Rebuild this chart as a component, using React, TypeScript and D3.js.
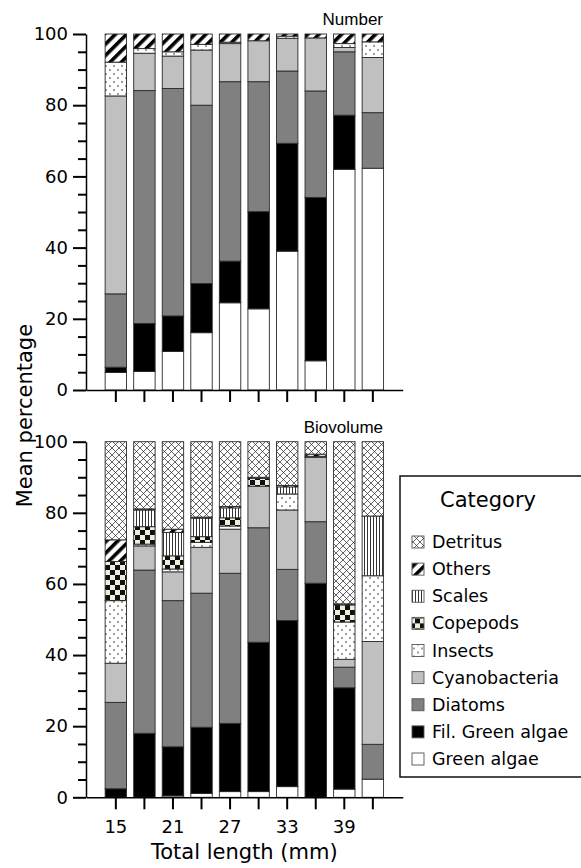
import { useEffect, useRef } from "react";
import * as d3 from "d3";

const LENGTHS = ["15", "18", "21", "24", "27", "30", "33", "36", "39", "42"];
const LABELLED = ["15", "21", "27", "33", "39"];

// stacked bottom -> top
const KEYS = [
  "Green algae",
  "Fil. Green algae",
  "Diatoms",
  "Cyanobacteria",
  "Insects",
  "Copepods",
  "Scales",
  "Others",
  "Detritus",
];

// Number (%), one array per category, values per length class
const NUM_GREEN = [4.9, 5.2, 10.8, 16.1, 24.5, 22.8, 39.0, 8.2, 62.0, 62.3];
const NUM_FILGREEN = [1.5, 13.5, 10.0, 13.8, 11.7, 27.3, 30.3, 45.9, 15.2, 0];
const NUM_DIATOMS = [20.6, 65.4, 63.9, 50.1, 50.4, 36.5, 20.3, 29.9, 17.8, 15.6];
const NUM_CYANO = [55.6, 10.5, 9.1, 15.5, 10.7, 11.5, 9.2, 14.9, 1.2, 15.5];
const NUM_INSECTS = [9.5, 1.3, 1.2, 1.6, 0.4, 0, 0.6, 0, 1.1, 4.4];
const NUM_COPEPODS = [0, 0, 0, 0, 0, 0, 0, 0, 0, 0];
const NUM_SCALES = [0, 0, 0, 0, 0, 0, 0, 0, 0, 0];
const NUM_OTHERS = [7.9, 4.1, 5.0, 2.9, 2.3, 1.9, 0.6, 1.1, 2.7, 2.2];
const NUM_DETRITUS = [0, 0, 0, 0, 0, 0, 0, 0, 0, 0];

// Biovolume (%)
const BIO_GREEN = [0, 0, 0.4, 1.1, 1.6, 1.6, 3.0, 0, 2.3, 5.1];
const BIO_FILGREEN = [2.4, 18.0, 13.8, 18.6, 19.2, 42.0, 46.7, 60.2, 28.5, 0];
const BIO_DIATOMS = [24.3, 45.9, 41.1, 37.7, 42.2, 32.2, 14.4, 17.3, 5.8, 9.8];
const BIO_CYANO = [11.0, 6.8, 8.1, 12.9, 12.4, 11.7, 16.7, 18.1, 2.2, 28.9];
const BIO_INSECTS = [17.6, 0.5, 0.8, 1.4, 0.9, 0, 4.5, 0.3, 10.5, 18.5];
const BIO_COPEPODS = [11.0, 4.9, 3.7, 1.6, 2.3, 2.2, 0, 0, 4.8, 0];
const BIO_SCALES = [0, 4.7, 6.6, 5.2, 2.8, 0, 2.0, 0, 0, 16.8];
const BIO_OTHERS = [6.1, 0.3, 0.9, 0.3, 0.4, 0.3, 0.4, 0.6, 0.3, 0];
const BIO_DETRITUS = [27.6, 18.9, 24.6, 21.2, 18.2, 10.0, 12.3, 3.5, 45.6, 20.9];

const FILLS: Record<string, string> = {
  "Green algae": "#ffffff",
  "Fil. Green algae": "#000000",
  Diatoms: "#808080",
  Cyanobacteria: "#c0c0c0",
  Insects: "url(#p-insects)",
  Copepods: "url(#p-copepods)",
  Scales: "url(#p-scales)",
  Others: "url(#p-others)",
  Detritus: "url(#p-detritus)",
};

const LEGEND_ORDER = [...KEYS].reverse();

function rows(cols: number[][]) {
  return LENGTHS.map((len, i) => {
    const r: Record<string, number | string> = { len };
    KEYS.forEach((k, j) => (r[k] = cols[j][i]));
    return r;
  });
}

const PANELS = [
  {
    title: "Number",
    top: 34,
    bottom: 390,
    labels: false,
    data: rows([NUM_GREEN, NUM_FILGREEN, NUM_DIATOMS, NUM_CYANO, NUM_INSECTS, NUM_COPEPODS, NUM_SCALES, NUM_OTHERS, NUM_DETRITUS]),
  },
  {
    title: "Biovolume",
    top: 441.7,
    bottom: 797.3,
    labels: true,
    data: rows([BIO_GREEN, BIO_FILGREEN, BIO_DIATOMS, BIO_CYANO, BIO_INSECTS, BIO_COPEPODS, BIO_SCALES, BIO_OTHERS, BIO_DETRITUS]),
  },
];

const W = 581;
const H = 868;
const FONT = "'DejaVu Sans', Verdana, sans-serif";

export default function App() {
  const ref = useRef<SVGSVGElement | null>(null);

  useEffect(() => {
    const svg = d3.select(ref.current);
    svg.selectAll("g").remove();

    const x = d3.scaleBand<string>().domain(LENGTHS).range([86, 402.7]).paddingInner(0.25).paddingOuter(0.67);
    const stack = d3.stack<Record<string, number | string>>().keys(KEYS);

    PANELS.forEach((p) => {
      const y = d3.scaleLinear().domain([0, 100]).range([p.bottom, p.top]);
      const g = svg.append("g");
      const series = stack(p.data as never);

      series.forEach((s) => {
        g.append("g")
          .selectAll("rect")
          .data(s.filter((d) => d[1] - d[0] > 0))
          .join("rect")
          .attr("x", (d) => x(d.data.len as string)!)
          .attr("width", x.bandwidth())
          .attr("y", (d) => y(d[1]))
          .attr("height", (d) => y(d[0]) - y(d[1]))
          .attr("fill", FILLS[s.key])
          .attr("stroke", "#2a2a2a")
          .attr("stroke-width", 0.9);
      });

      // y axis: major + minor ticks
      g.append("g")
        .attr("transform", "translate(86,0)")
        .call(d3.axisLeft(y).tickValues(d3.range(0, 101, 20)).tickSize(13).tickSizeOuter(0).tickPadding(5))
        .call((s) => s.select(".domain").attr("stroke", "#000").attr("stroke-width", 1.5))
        .call((s) => s.selectAll(".tick line").attr("stroke", "#000").attr("stroke-width", 2))
        .call((s) => s.selectAll("text").attr("fill", "#000").attr("font-family", FONT).attr("font-size", 18));
      g.append("g")
        .attr("transform", "translate(86,0)")
        .call(
          d3
            .axisLeft(y)
            .tickValues(d3.range(5, 100, 5).filter((v) => v % 20 !== 0))
            .tickSize(8)
            .tickFormat(() => "")
        )
        .call((s) => s.select(".domain").remove())
        .call((s) => s.selectAll(".tick line").attr("stroke", "#000").attr("stroke-width", 2));

      // x axis
      g.append("g")
        .attr("transform", `translate(0,${p.bottom})`)
        .call(
          d3
            .axisBottom(x)
            .tickSize(12)
            .tickSizeOuter(0)
            .tickPadding(11)
            .tickFormat((d) => (p.labels && LABELLED.includes(d) ? d : ""))
        )
        .call((s) => s.select(".domain").attr("stroke", "#000").attr("stroke-width", 1.5))
        .call((s) => s.selectAll(".tick line").attr("stroke", "#000").attr("stroke-width", 2))
        .call((s) => s.selectAll("text").attr("fill", "#000").attr("font-family", FONT).attr("font-size", 18));

      g.append("text")
        .attr("x", 383)
        .attr("y", p.top - 9)
        .attr("text-anchor", "end")
        .attr("font-family", "'Liberation Sans', Arial, sans-serif")
        .attr("font-size", 17)
        .text(p.title);
    });

    // axis titles
    svg
      .append("g")
      .append("text")
      .attr("x", 244.3)
      .attr("y", 859)
      .attr("text-anchor", "middle")
      .attr("font-family", FONT)
      .attr("font-size", 21)
      .text("Total length (mm)");
    svg
      .append("g")
      .attr("transform", "translate(32,415.6) rotate(-90)")
      .append("text")
      .attr("text-anchor", "middle")
      .attr("font-family", FONT)
      .attr("font-size", 21)
      .text("Mean percentage");

    // legend
    const lg = svg.append("g");
    lg.append("rect")
      .attr("x", 400)
      .attr("y", 476)
      .attr("width", 190)
      .attr("height", 301)
      .attr("fill", "#fff")
      .attr("stroke", "#111")
      .attr("stroke-width", 1.5);
    lg.append("text")
      .attr("x", 488)
      .attr("y", 507)
      .attr("text-anchor", "middle")
      .attr("font-family", FONT)
      .attr("font-size", 21)
      .text("Category");
    const ly = d3.scalePoint<string>().domain(LEGEND_ORDER).range([542, 759]);
    const item = lg
      .selectAll("g.item")
      .data(LEGEND_ORDER)
      .join("g")
      .attr("class", "item")
      .attr("transform", (d) => `translate(0,${ly(d)})`);
    item
      .append("rect")
      .attr("x", 412)
      .attr("y", -6)
      .attr("width", 12)
      .attr("height", 12)
      .attr("fill", (d) => FILLS[d])
      .attr("stroke", "#555")
      .attr("stroke-width", 0.9);
    item
      .append("text")
      .attr("x", 432)
      .attr("y", 6)
      .attr("font-family", FONT)
      .attr("font-size", 17.5)
      .text((d) => d);
  }, []);

  return (
    <svg
      ref={ref}
      width={W}
      height={H}
      style={{ position: "absolute", left: 0, top: 0, background: "#fff" }}
    >
      <defs>
        <pattern id="p-detritus" patternUnits="userSpaceOnUse" width={7} height={7}>
          <rect width={7} height={7} fill="#fff" />
          <path d="M0,0L7,7M7,0L0,7" stroke="#222" strokeWidth={0.7} />
        </pattern>
        <pattern id="p-others" patternUnits="userSpaceOnUse" width={8} height={8} patternTransform="rotate(45)">
          <rect width={8} height={8} fill="#fff" />
          <rect width={3.6} height={8} fill="#000" />
        </pattern>
        <pattern id="p-scales" patternUnits="userSpaceOnUse" width={3} height={3}>
          <rect width={3} height={3} fill="#fff" />
          <rect x={1} width={1} height={3} fill="#333" />
        </pattern>
        <pattern id="p-copepods" patternUnits="userSpaceOnUse" width={10} height={10}>
          <rect width={10} height={10} fill="#f0eedd" />
          <rect width={5} height={5} fill="#111" />
          <rect x={5} y={5} width={5} height={5} fill="#111" />
        </pattern>
        <pattern id="p-insects" patternUnits="userSpaceOnUse" width={8} height={8}>
          <rect width={8} height={8} fill="#fff" />
          <circle cx={2} cy={2} r={0.8} fill="#222" />
          <circle cx={6} cy={6} r={0.8} fill="#222" />
        </pattern>
      </defs>
    </svg>
  );
}
